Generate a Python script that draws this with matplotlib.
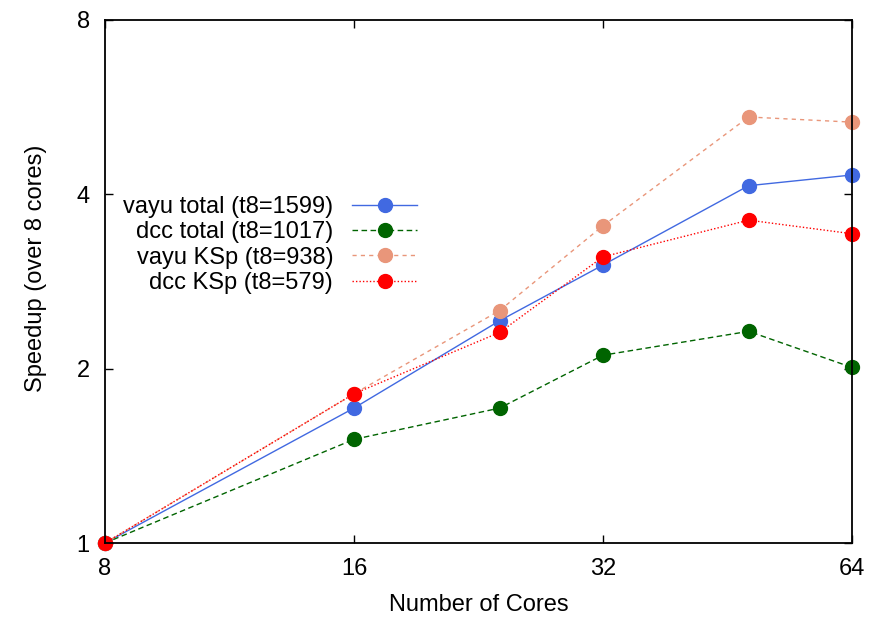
import matplotlib
matplotlib.use("Agg")
import matplotlib.pyplot as plt
from matplotlib.ticker import FixedLocator, FixedFormatter, NullLocator

plt.rcParams['font.family'] = ['Liberation Sans', 'DejaVu Sans']

cores = [8, 16, 24, 32, 48, 64]
vayu_total = [1.0, 1.71, 2.42, 3.02, 4.14, 4.32]
dcc_total = [1.0, 1.51, 1.71, 2.11, 2.32, 2.01]
vayu_ksp = [1.0, 1.81, 2.52, 3.53, 5.44, 5.33]
dcc_ksp = [1.0, 1.81, 2.31, 3.12, 3.61, 3.42]

labels = ["vayu total (t8=1599)", "dcc total (t8=1017)",
          "vayu KSp (t8=938)", "dcc KSp (t8=579)"]
xticks = [8, 16, 32, 64]
yticks = [1, 2, 4, 8]

fs = 17
fig = plt.figure(figsize=(8.85, 6.17), dpi=100)
ax = fig.add_axes([0.1186, 0.1199, 0.9627 - 0.1186, 0.9676 - 0.1199])

ms = 10
ax.plot(cores, vayu_total, color='#4169E1', lw=1.0, ls='-', marker='o', ms=ms, label=labels[0])
ax.plot(cores, dcc_total, color='#006400', lw=1.0, ls=(0, (4, 2.5)), marker='o', ms=ms, label=labels[1])
ax.plot(cores, vayu_ksp, color='#E9967A', lw=1.0, ls=(0, (3, 3)), marker='o', ms=ms, label=labels[2])
ax.plot(cores, dcc_ksp, color='#FF0000', lw=1.0, ls=(0, (1, 1.5)), marker='o', ms=ms, label=labels[3])

ax.set_xscale('log', base=2)
ax.set_yscale('log', base=2)
ax.set_xlim(8, 64)
ax.set_ylim(1, 8)
ax.xaxis.set_major_locator(FixedLocator(xticks))
ax.xaxis.set_major_formatter(FixedFormatter([str(t) for t in xticks]))
ax.yaxis.set_major_locator(FixedLocator(yticks))
ax.yaxis.set_major_formatter(FixedFormatter([str(t) for t in yticks]))
ax.xaxis.set_minor_locator(NullLocator())
ax.yaxis.set_minor_locator(NullLocator())
ax.tick_params(direction='in', top=True, right=True, length=6, width=1, labelsize=fs)
ax.tick_params(axis='y', pad=11)
ax.tick_params(axis='x', pad=11)
for s in ax.spines.values():
    s.set_linewidth(1.3)

ax.set_xlabel("Number of Cores", fontsize=fs, labelpad=10)
ax.set_ylabel("Speedup (over 8 cores)", fontsize=fs)
ax.yaxis.set_label_coords(-0.077, 0.525)

for line in ax.lines:
    line.set_clip_on(False)

leg = ax.legend(loc='upper right', bbox_to_anchor=(417 / 885, 1 - 196 / 617),
                bbox_transform=fig.transFigure, frameon=False, markerfirst=False,
                fontsize=fs, handlelength=2.75, handletextpad=0.8, labelspacing=0.14,
                borderaxespad=0, borderpad=0)
for t in leg.get_texts():
    t.set_ha('right')
leg._legend_box.align = "right"

fig.savefig("out.png", dpi=100)
